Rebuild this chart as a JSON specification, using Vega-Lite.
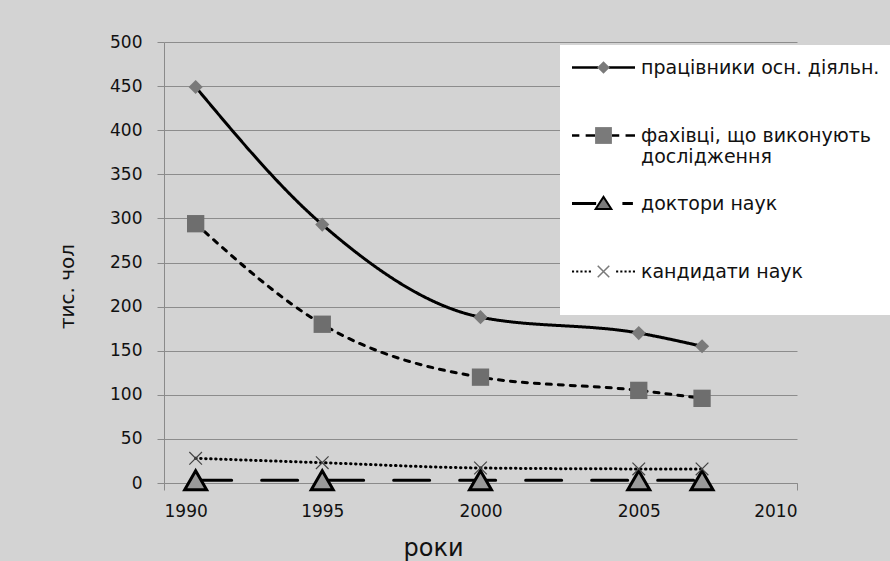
{
  "$schema": "https://vega.github.io/schema/vega-lite/v6.json",
  "width": 633,
  "height": 441,
  "autosize": {"type": "none"},
  "padding": {"left": 164, "top": 42, "right": 93, "bottom": 78},
  "background": "#d3d3d3",
  "config": {
    "view": {"stroke": null},
    "font": "DejaVu Sans",
    "axis": {
      "labelFont": "DejaVu Sans",
      "titleFont": "DejaVu Sans",
      "labelColor": "#111111",
      "titleColor": "#111111",
      "titleFontWeight": "normal",
      "domainColor": "#8a8a8a",
      "tickColor": "#8a8a8a",
      "gridColor": "#8c8c8c",
      "tickSize": 7,
      "labelFontSize": 17
    }
  },
  "data": {
    "values": [
      {"year": 1991, "value": 449, "series": "працівники осн. діяльн."},
      {"year": 1995, "value": 293, "series": "працівники осн. діяльн."},
      {"year": 2000, "value": 188, "series": "працівники осн. діяльн."},
      {"year": 2005, "value": 170, "series": "працівники осн. діяльн."},
      {"year": 2007, "value": 155, "series": "працівники осн. діяльн."},
      {"year": 1991, "value": 294, "series": "фахівці, що виконують дослідження"},
      {"year": 1995, "value": 180, "series": "фахівці, що виконують дослідження"},
      {"year": 2000, "value": 120, "series": "фахівці, що виконують дослідження"},
      {"year": 2005, "value": 105, "series": "фахівці, що виконують дослідження"},
      {"year": 2007, "value": 96, "series": "фахівці, що виконують дослідження"},
      {"year": 1991, "value": 3, "series": "доктори наук"},
      {"year": 1995, "value": 3, "series": "доктори наук"},
      {"year": 2000, "value": 3, "series": "доктори наук"},
      {"year": 2005, "value": 3, "series": "доктори наук"},
      {"year": 2007, "value": 3, "series": "доктори наук"},
      {"year": 1991, "value": 28, "series": "кандидати наук"},
      {"year": 1995, "value": 23, "series": "кандидати наук"},
      {"year": 2000, "value": 17, "series": "кандидати наук"},
      {"year": 2005, "value": 16, "series": "кандидати наук"},
      {"year": 2007, "value": 16, "series": "кандидати наук"}
    ]
  },
  "layer": [
    {
      "mark": {"type": "line", "color": "#000000", "interpolate": "monotone", "strokeCap": "round"},
      "encoding": {
        "x": {
          "field": "year", "type": "quantitative",
          "scale": {"domain": [1990, 2010], "nice": false, "zero": false},
          "axis": {
            "values": [1990, 1995, 2000, 2005, 2010], "format": "d", "grid": false,
            "title": "роки", "titleFontSize": 24, "labelPadding": 13,
            "titleX": 269, "titleY": 72, "titleAlign": "center", "titleBaseline": "alphabetic", "titleAnchor": null
          }
        },
        "y": {
          "field": "value", "type": "quantitative",
          "scale": {"domain": [0, 500], "nice": false},
          "axis": {
            "values": [0, 50, 100, 150, 200, 250, 300, 350, 400, 450, 500], "grid": true,
            "title": "тис. чол", "titleFontSize": 20, "labelPadding": 15,
            "titleX": -91, "titleY": 244, "titleAngle": -90, "titleAlign": "center", "titleBaseline": "alphabetic"
          }
        },
        "detail": {"field": "series"},
        "strokeDash": {
          "field": "series", "type": "nominal",
          "scale": {
            "domain": ["працівники осн. діяльн.", "фахівці, що виконують дослідження", "доктори наук", "кандидати наук"],
            "range": [[1, 0], [5, 7], [36, 30], [0.5, 4.5]]
          },
          "legend": null
        },
        "strokeWidth": {
          "field": "series", "type": "nominal",
          "scale": {
            "domain": ["працівники осн. діяльн.", "фахівці, що виконують дослідження", "доктори наук", "кандидати наук"],
            "range": [3, 3, 5, 2.5]
          },
          "legend": null
        }
      }
    },
    {
      "transform": [{"filter": "datum.series === 'працівники осн. діяльн.'"}],
      "mark": {"type": "point", "shape": "diamond", "filled": true, "fill": "#7a7a7a", "size": 200, "opacity": 1, "strokeWidth": 0},
      "encoding": {"x": {"field": "year", "type": "quantitative"}, "y": {"field": "value", "type": "quantitative"}}
    },
    {
      "transform": [{"filter": "datum.series === 'фахівці, що виконують дослідження'"}],
      "mark": {"type": "point", "shape": "square", "filled": true, "fill": "#6e6e6e", "size": 300, "opacity": 1, "strokeWidth": 0},
      "encoding": {"x": {"field": "year", "type": "quantitative"}, "y": {"field": "value", "type": "quantitative"}}
    },
    {
      "transform": [{"filter": "datum.series === 'доктори наук'"}],
      "mark": {"type": "point", "shape": "triangle-up", "filled": true, "fill": "#9a9a9a", "stroke": "#000000", "strokeWidth": 3, "size": 480, "opacity": 1},
      "encoding": {"x": {"field": "year", "type": "quantitative"}, "y": {"field": "value", "type": "quantitative"}}
    },
    {
      "transform": [{"filter": "datum.series === 'кандидати наук'"}],
      "mark": {"type": "point", "shape": "M-1,-1L1,1M-1,1L1,-1", "filled": false, "stroke": "#444444", "strokeWidth": 1.2, "size": 160, "opacity": 1},
      "encoding": {"x": {"field": "year", "type": "quantitative"}, "y": {"field": "value", "type": "quantitative"}}
    },
    {
      "mark": {"type": "point", "filled": true, "fill": "#000000", "strokeWidth": 0, "opacity": 0, "size": 441},
      "encoding": {
        "x": {"field": "year", "type": "quantitative"},
        "y": {"field": "value", "type": "quantitative"},
        "shape": {
          "field": "series", "type": "nominal",
          "scale": {
            "domain": ["працівники осн. діяльн.", "фахівці, що виконують дослідження", "доктори наук", "кандидати наук"],
            "range": [
              "M-3,-0.12H-0.5V0.12H-3ZM0.5,-0.12H3V0.12H0.5Z",
              "M-3,-0.12H-2.3V0.12H-3ZM-1.7,-0.12H-0.8V0.12H-1.7ZM0.8,-0.12H1.5V0.12H0.8ZM2.1,-0.12H3V0.12H2.1Z",
              "M-3,-0.14H-0.7V0.14H-3ZM1.8,-0.14H2.8V0.14H1.8ZM0,-0.82L0.92,0.62H-0.92Z",
              "M-3,-0.1h0.2v0.2h-0.2ZM-2.6,-0.1h0.2v0.2h-0.2ZM-2.2,-0.1h0.2v0.2h-0.2ZM-1.8,-0.1h0.2v0.2h-0.2ZM-1.4,-0.1h0.2v0.2h-0.2ZM1.2,-0.1h0.2v0.2h-0.2ZM1.6,-0.1h0.2v0.2h-0.2ZM2.0,-0.1h0.2v0.2h-0.2ZM2.4,-0.1h0.2v0.2h-0.2ZM2.8,-0.1h0.2v0.2h-0.2Z"
            ]
          },
          "legend": {
            "title": null,
            "orient": "none",
            "legendX": 396,
            "legendY": 3,
            "padding": 12,
            "fillColor": "#ffffff",
            "strokeColor": null,
            "symbolSize": 441,
            "symbolOffset": 21,
            "labelOffset": 27,
            "symbolOpacity": 1,
            "symbolFillColor": "#000000",
            "symbolStrokeWidth": 0,
            "labelFont": "DejaVu Sans",
            "labelFontSize": 19,
            "labelColor": "#111111",
            "labelLimit": 400,
            "rowPadding": 26,
            "labelExpr": "datum.label === 'фахівці, що виконують дослідження' ? ['фахівці, що виконують', 'дослідження'] : [datum.label, '']",
            "encode": {"symbols": {"opacity": {"value": 1}, "fill": {"value": "#000000"}}}
          }
        }
      }
    },
    {
      "mark": {"type": "point", "filled": true, "fill": "#7a7a7a", "strokeWidth": 0, "opacity": 0, "size": 441},
      "encoding": {
        "x": {"field": "year", "type": "quantitative"},
        "y": {"field": "value", "type": "quantitative"},
        "shape": {
          "field": "series", "type": "nominal",
          "scale": {
            "domain": ["працівники осн. діяльн.", "фахівці, що виконують дослідження", "доктори наук", "кандидати наук"],
            "range": [
              "M0,-0.6L0.6,0L0,0.6L-0.6,0Z",
              "M-0.8,-0.8H0.8V0.8H-0.8Z",
              "M0,-0.45L0.58,0.44H-0.58Z",
              "M-0.5,-0.6L0.6,0.5L0.5,0.6L-0.6,-0.5ZM0.5,-0.6L0.6,-0.5L-0.5,0.6L-0.6,0.5Z"
            ]
          },
          "legend": {
            "title": null,
            "orient": "none",
            "legendX": 396,
            "legendY": 3,
            "padding": 12,
            "fillColor": null,
            "strokeColor": null,
            "symbolSize": 441,
            "symbolOffset": 21,
            "labelOffset": 27,
            "symbolOpacity": 1,
            "symbolFillColor": "#7a7a7a",
            "symbolStrokeWidth": 0,
            "labelFont": "DejaVu Sans",
            "labelFontSize": 19,
            "labelColor": "#111111",
            "labelOpacity": 0,
            "labelLimit": 400,
            "rowPadding": 26,
            "labelExpr": "datum.label === 'фахівці, що виконують дослідження' ? ['фахівці, що виконують', 'дослідження'] : [datum.label, '']",
            "encode": {"symbols": {"opacity": {"value": 1}, "fill": {"value": "#7a7a7a"}}}
          }
        }
      }
    }
  ],
  "resolve": {"scale": {"shape": "independent"}, "legend": {"shape": "independent"}}
}
